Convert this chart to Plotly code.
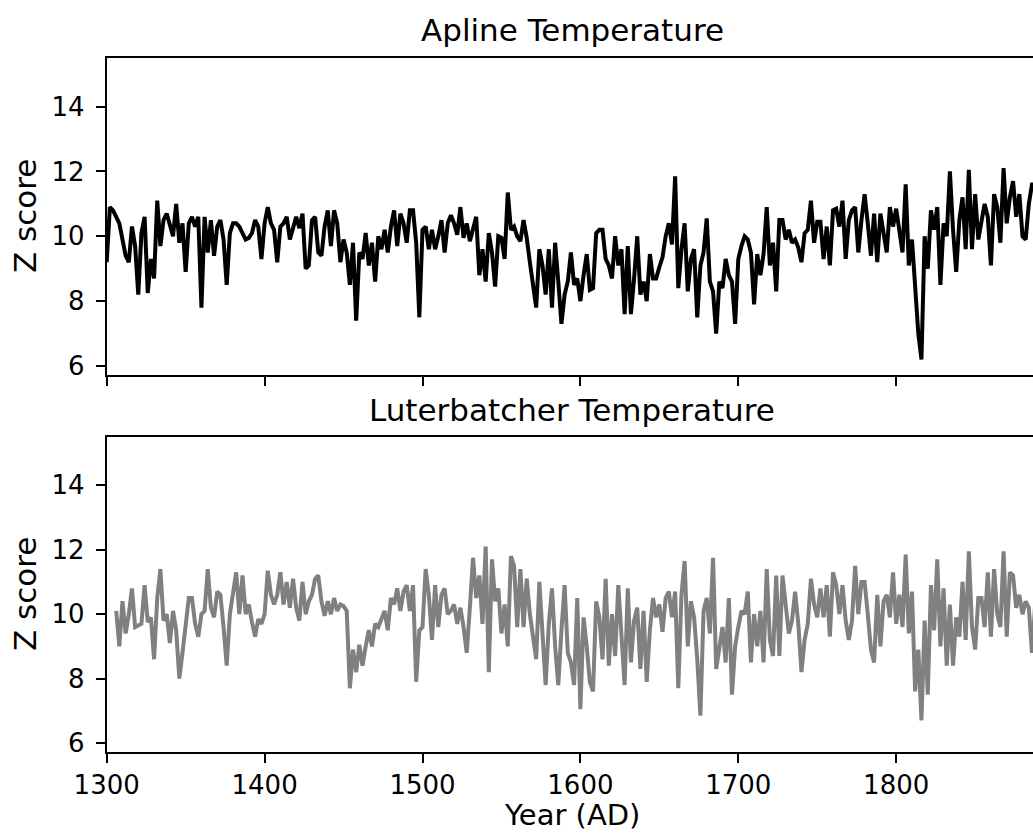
import plotly.graph_objects as go

# ---------------- data ----------------
years_apline = list(range(1300, 1890, 2))
apline = [
    # 1300-1446
    9.2, 10.9, 10.8, 10.6, 10.4, 9.9, 9.4, 9.2, 10.3, 9.7,
    8.2, 10.1, 10.6, 8.25, 9.3, 8.7, 11.1, 9.7, 10.5, 10.7,
    10.3, 10.0, 11.0, 9.8, 10.4, 8.9, 10.4, 10.6, 10.3, 10.6,
    7.8, 10.6, 9.5, 10.5, 9.4, 10.3, 10.5, 9.9, 8.5, 10.1,
    10.4, 10.4, 10.3, 10.1, 9.9, 9.95, 10.1, 10.5, 10.3, 9.3,
    10.4, 10.9, 10.4, 10.2, 9.2, 10.3, 10.4, 10.6, 9.9, 10.25,
    10.6, 10.25, 10.7, 9.0, 9.1, 10.5, 10.6, 9.5, 9.4, 10.3,
    10.8, 9.7, 10.8, 10.4,
    # 1448-1594
    9.2, 9.9, 9.5, 8.5, 9.8, 7.4, 9.5, 9.3, 10.1, 9.1,
    9.8, 8.6, 10.0, 9.6, 10.2, 9.5, 10.3, 10.8, 9.7, 10.7,
    10.4, 9.8, 10.8, 10.8, 9.8, 7.5, 10.2, 10.3, 9.6, 10.2,
    9.6, 10.0, 10.5, 9.5, 10.4, 10.65, 10.4, 10.05, 10.9, 9.95,
    10.4, 9.85, 10.25, 10.6, 8.8, 9.6, 8.6, 10.1, 9.5, 8.45,
    10.0, 9.95, 9.3, 11.35, 10.2, 10.3, 10.0, 9.85, 10.5, 9.95,
    9.2, 8.55, 7.8, 9.6, 9.1, 8.2, 9.6, 7.8, 9.8, 8.6,
    7.3, 8.2, 8.6, 9.5,
    # 1596-1742
    8.5, 8.7, 8.0, 8.8, 9.45, 8.35, 8.4, 10.1, 10.2, 10.2,
    9.3, 9.1, 8.7, 10.0, 9.1, 9.6, 7.6, 9.7, 7.6, 8.7,
    10.0, 8.2, 8.6, 8.0, 9.45, 8.7, 8.7, 9.05, 9.35, 10.0,
    10.4, 9.75, 11.85, 8.4, 9.6, 10.4, 8.3, 9.3, 9.6, 7.5,
    9.1, 9.5, 10.55, 8.6, 8.3, 7.0, 8.6, 8.4, 9.3, 8.8,
    8.6, 7.3, 9.3, 9.7, 10.0, 9.9, 9.5, 7.9, 9.45, 8.8,
    9.45, 10.9, 9.1, 9.8, 8.3, 10.5, 10.5, 9.9, 10.2, 9.8,
    9.9, 9.65, 9.2, 10.1,
    # 1744-1888
    10.2, 11.1, 9.8, 10.45, 10.45, 9.3, 10.3, 9.1, 10.8, 10.85,
    10.3, 11.1, 9.3, 10.5, 10.8, 10.9, 9.5, 10.5, 11.3, 10.4,
    9.4, 10.7, 9.2, 10.7, 10.15, 9.5, 10.9, 10.3, 10.85, 10.15,
    9.5, 11.6, 9.1, 9.9, 8.2, 7.0, 6.2, 10.0, 9.0, 10.8,
    10.2, 10.9, 8.5, 10.4, 10.0, 12.0, 10.2, 8.9, 10.5, 11.2,
    9.6, 12.05, 9.6, 11.3, 9.9, 10.4, 11.0, 10.6, 9.1, 11.3,
    10.9, 9.8, 12.1, 10.4, 11.2, 11.7, 10.6, 11.3, 10.0, 9.9,
    11.0, 11.6, 11.6,
]

years_luter = list(range(1306, 1890, 2))
luter = [
    # 1306-1446
    10.1, 9.0, 10.4, 9.4, 10.0, 10.8, 9.6, 9.65, 9.7, 10.9,
    9.75, 9.9, 8.6, 10.5, 11.4, 9.8, 10.0, 9.1, 10.1, 9.5,
    8.0, 8.8, 9.7, 10.5, 10.5, 9.7, 9.3, 10.0, 10.1, 11.4,
    10.2, 9.9, 10.7, 10.6, 9.6, 8.4, 10.0, 10.6, 11.3, 10.0,
    11.2, 10.0, 10.3, 9.75, 9.3, 9.85, 9.7, 10.0, 11.35, 10.6,
    10.3, 10.6, 11.3, 10.3, 11.0, 10.2, 11.1, 10.2, 9.8, 11.0,
    10.0, 10.4, 10.6, 11.1, 11.2, 10.4, 9.95, 10.4, 10.0, 10.5,
    10.1,
    # 1448-1594
    10.3, 10.25, 10.1, 7.7, 8.9, 8.2, 9.05, 8.4, 9.0, 9.5,
    9.0, 9.7, 9.6, 9.9, 10.1, 9.5, 10.5, 10.3, 10.8, 10.1,
    10.7, 10.9, 10.1, 10.9, 7.9, 9.5, 9.6, 11.4, 10.6, 9.2,
    10.9, 9.6, 10.6, 10.8, 10.0, 10.1, 10.3, 9.7, 10.2, 9.6,
    8.8, 10.2, 11.75, 10.5, 11.2, 9.7, 12.1, 8.2, 11.7, 10.4,
    10.8, 9.4, 10.3, 9.0, 11.8, 11.5, 9.6, 11.4, 9.6, 11.1,
    10.0, 9.3, 8.6, 11.0, 9.6, 7.8, 9.7, 10.8, 9.0, 7.8,
    9.5, 10.9, 8.8, 8.5,
    # 1596-1742
    7.8, 10.5, 7.05, 9.9, 9.0, 7.9, 7.6, 10.4, 9.9, 8.6,
    11.1, 8.4, 10.0, 8.7, 10.9, 9.4, 7.8, 10.8, 8.5, 9.8,
    10.2, 8.3, 10.1, 7.9, 9.5, 10.5, 9.9, 10.3, 9.45, 10.5,
    10.7, 9.9, 10.7, 7.7, 10.6, 11.65, 9.0, 10.4, 9.9, 8.6,
    6.85, 10.1, 10.5, 9.4, 11.75, 8.3, 9.0, 9.6, 8.5, 10.5,
    7.5, 9.0, 9.6, 10.1, 10.0, 10.7, 8.5, 10.0, 9.0, 10.1,
    8.5, 11.4, 9.2, 8.7, 11.2, 8.7, 11.2, 10.3, 9.4, 9.8,
    10.7, 9.7, 8.2, 9.2,
    # 1744-1888
    9.7, 11.1, 10.3, 9.9, 10.8, 9.9, 10.9, 9.3, 11.3, 10.9,
    10.0, 10.9, 9.8, 9.2, 9.8, 11.5, 10.0, 11.0, 11.0, 10.0,
    8.9, 8.5, 10.6, 9.0, 10.4, 10.6, 9.9, 11.3, 9.7, 10.6,
    9.6, 11.85, 9.4, 10.7, 7.6, 8.9, 6.7, 9.8, 7.5, 10.9,
    9.5, 11.7, 9.0, 10.8, 8.4, 10.3, 8.4, 9.9, 9.3, 11.0,
    9.2, 11.95, 9.6, 8.9, 10.5, 10.5, 9.6, 11.3, 9.3, 11.4,
    10.0, 9.6, 11.95, 9.3, 11.3, 11.2, 10.2, 10.6, 10.0, 10.4,
    10.2, 8.8, 10.3,
]

x_ticks = [1300, 1400, 1500, 1600, 1700, 1800]
y_ticks = [6, 8, 10, 12, 14]
titles = ["Apline Temperature", "Luterbatcher Temperature"]
x_label = "Year (AD)"
y_label = "Z score"

# ---------------- layout geometry ----------------
W, H = 1033, 834
x_left = 106.7 / W
top_dom = [1 - 375 / H, 1 - 58 / H]
bot_dom = [1 - 752 / H, 1 - 437 / H]
x_range = [1300, 1300 + (W - 106.7) / 1.579]
y_range = [5.72, 15.5]

FONT = "DejaVu Sans"
fig = go.Figure()
fig.add_trace(go.Scatter(x=years_apline, y=apline, mode="lines",
                         line=dict(color="black", width=4),
                         xaxis="x", yaxis="y", showlegend=False))
fig.add_trace(go.Scatter(x=years_luter, y=luter, mode="lines",
                         line=dict(color="#808080", width=4),
                         xaxis="x2", yaxis="y2", showlegend=False))

tick_font = dict(size=26, color="black", family=FONT)
common_x = dict(range=x_range, domain=[x_left, 1], showline=True, linecolor="black",
                linewidth=2, mirror=True, ticks="outside", ticklen=9, tickwidth=2,
                tickcolor="black", tickvals=x_ticks, showgrid=False, zeroline=False,
                automargin=False, ticklabelstandoff=0, tickfont=tick_font)
common_y = dict(range=y_range, showline=True, linecolor="black", linewidth=2,
                ticks="outside", ticklen=9, tickwidth=2, tickcolor="black",
                tickvals=y_ticks, showgrid=False, zeroline=False, automargin=False,
                ticklabelstandoff=6, tickfont=tick_font)

fig.update_layout(
    width=W, height=H,
    margin=dict(l=0, r=0, t=0, b=0, autoexpand=False),
    paper_bgcolor="white", plot_bgcolor="white",
    font=dict(family=FONT, color="black"),
    xaxis=dict(anchor="y", showticklabels=False, **common_x),
    yaxis=dict(anchor="x", domain=top_dom, **common_y),
    xaxis2=dict(anchor="y2", showticklabels=True, **common_x),
    yaxis2=dict(anchor="x2", domain=bot_dom, **common_y),
)

ann_font = dict(size=31, color="black", family=FONT)
annotations = [
    dict(text=titles[0], x=572 / W, y=1 - 30 / H, font=ann_font),
    dict(text=titles[1], x=572 / W, y=1 - 410 / H, font=ann_font),
    dict(text=x_label, x=572 / W, y=1 - 815 / H,
         font=dict(size=29, color="black", family=FONT)),
    dict(text=y_label, x=25 / W, y=1 - 216 / H, textangle=-90, font=ann_font),
    dict(text=y_label, x=25 / W, y=1 - 594 / H, textangle=-90, font=ann_font),
]
for a in annotations:
    fig.add_annotation(xref="paper", yref="paper", xanchor="center", yanchor="middle",
                       showarrow=False, **a)

fig.write_html("out.html")
